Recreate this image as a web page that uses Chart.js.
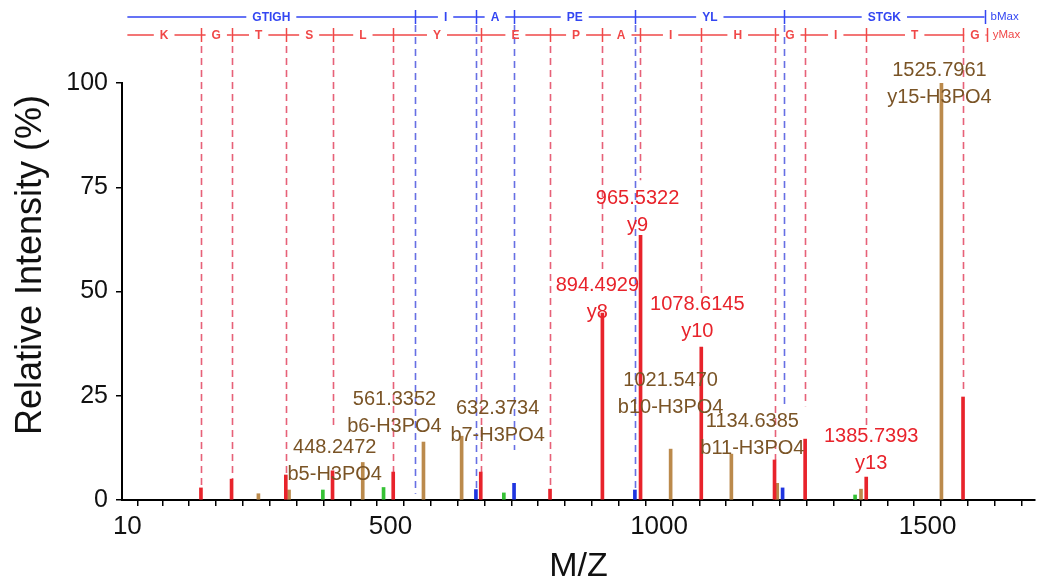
<!DOCTYPE html>
<html>
<head>
<meta charset="utf-8">
<script src="https://cdn.jsdelivr.net/npm/chart.js@4.4.1/dist/chart.umd.min.js"></script>
<style>
  html, body { margin: 0; padding: 0; background: #fff; }
  #grafico { display: block; }
</style>
</head>
<body>
<canvas id="grafico" width="1040" height="587"></canvas>
<script>
// picos por tipo de ion (m/z, intensidade relativa %)
const yIonMz = [147, 204, 305, 392, 505, 668, 797, 894.4929, 965.5322, 1078.6145, 1215, 1272, 1385.7393, 1566];
const yIonInt = [2.9, 5, 6, 7, 6.7, 6.7, 2.6, 44.8, 63.5, 36.7, 9.6, 14.6, 5.5, 24.7];
const perdaMz = [254, 311, 448.2472, 561.3352, 632.3734, 1021.5470, 1134.6385, 1220, 1376, 1525.7961];
const perdaInt = [1.5, 2.4, 9, 13.9, 15.3, 12.2, 11, 4, 2.6, 100];
const bIonMz = [659, 730, 955, 1230];
const bIonInt = [2.5, 4, 2.4, 2.9];
const outrosMz = [374, 487, 711, 1365];
const outrosInt = [2.4, 3, 1.7, 1.2];

// escada de fragmentos no topo
const escadaB = [546, 659, 730, 956, 1233, 1606];
const escadaBRes = ["GTIGH", "I", "A", "PE", "YL", "STGK"];
const escadaBTracejado = [1.5, 2.5, 12, 2.4, 22.3, null];
const escadaY = [147, 204, 305, 392, 505, 668, 797, 894, 965, 1078, 1215, 1272, 1386, 1566, 1610];
const escadaYRes = ["K", "G", "T", "S", "L", "Y", "E", "P", "A", "I", "H", "G", "I", "T", "G"];
const escadaYTracejado = [2.9, 5, 6, 17.5, 6.7, 6.7, 2.6, 54.4, 76.7, 49.6, 9.6, 22.5, 17.3, 25.7, null];

// picos anotados
const anotMz = [448.2472, 561.3352, 632.3734, 894.4929, 965.5322, 1078.6145, 1021.5470, 1134.6385, 1385.7393, 1525.7961];
const anotIon = ["b5-H3PO4", "b6-H3PO4", "b7-H3PO4", "y8", "y9", "y10", "b10-H3PO4", "b11-H3PO4", "y13", "y15-H3PO4"];

// eixos
const xMin = 0, xMax = 1700;
const xTicks = [10, 50, 100, 150, 200, 250, 300, 350, 400, 450, 500, 550, 600, 650, 700, 750, 800, 850, 900, 950,
  1000, 1050, 1100, 1150, 1200, 1250, 1300, 1350, 1400, 1450, 1500, 1550, 1600, 1650, 1700];
const xTickLabels = [10, 500, 1000, 1500];
const yTicks = [0, 25, 50, 75, 100];

const COR = {
  vermelho: "#e8232b",
  marrom: "#bb8a4c",
  marromTexto: "#7a5426",
  azul: "#1f35e0",
  verde: "#35c235",
  tracoVermelho: "rgba(228, 80, 105, 0.9)",
  tracoAzul: "rgba(85, 95, 225, 0.9)",
  escadaAzul: "#3346f2",
  escadaVermelha: "#f04848"
};
const FONTE = '"Liberation Sans", Arial, Helvetica, sans-serif';

// deslocamento (px) do rotulo em relacao ao topo do pico: [dx, dy da 2a linha]
const rotuloDesloc = [[-28, 12], [-29, -16], [36, -1], [-5, -1], [-3, -10], [-4, -15], [0, -42], [21, -6], [5, -14], [-2, 14]];

function pares(xs, ys) {
  return xs.map((x, i) => ({ x: x, y: ys[i] }));
}

function desenharEscada(ctx, xs, posicoes, residuos, y, cor, rotuloFim) {
  ctx.save();
  ctx.strokeStyle = cor;
  ctx.fillStyle = cor;
  ctx.lineWidth = 1.5;
  ctx.font = "bold 12px " + FONTE;
  ctx.textAlign = "center";
  ctx.textBaseline = "middle";
  const limites = [xTickLabels[0], ...posicoes];
  for (let i = 0; i < residuos.length; i++) {
    const a = xs.getPixelForValue(limites[i]);
    const b = xs.getPixelForValue(limites[i + 1]);
    const c = (a + b) / 2;
    const w = ctx.measureText(residuos[i]).width / 2 + 6;
    ctx.beginPath();
    if (c - w > a) { ctx.moveTo(a, y); ctx.lineTo(c - w, y); }
    if (c + w < b) { ctx.moveTo(c + w, y); ctx.lineTo(b, y); }
    ctx.stroke();
    ctx.fillText(residuos[i], c, y + 0.5);
  }
  ctx.beginPath();
  posicoes.forEach((p) => {
    const px = Math.round(xs.getPixelForValue(p)) + 0.5;
    ctx.moveTo(px, y - 7);
    ctx.lineTo(px, y + 7);
  });
  ctx.stroke();
  ctx.font = "11.5px " + FONTE;
  ctx.textAlign = "left";
  ctx.fillText(rotuloFim, xs.getPixelForValue(posicoes[posicoes.length - 1]) + 6, y);
  ctx.restore();
}

function desenharTracejados(ctx, xs, ys, posicoes, fins, yTopo, cor) {
  ctx.save();
  ctx.strokeStyle = cor;
  ctx.lineWidth = 1.6;
  ctx.setLineDash([7, 5]);
  posicoes.forEach((p, i) => {
    if (fins[i] === null) return;
    const px = Math.round(xs.getPixelForValue(p)) + 0.5;
    ctx.beginPath();
    ctx.moveTo(px, yTopo);
    ctx.lineTo(px, ys.getPixelForValue(fins[i]));
    ctx.stroke();
  });
  ctx.restore();
}

const espectroPlugin = {
  id: "espectro",
  beforeDatasetsDraw(chart) {
    const ctx = chart.ctx;
    const xs = chart.scales.x, ys = chart.scales.y;
    desenharTracejados(ctx, xs, ys, escadaY, escadaYTracejado, 46, COR.tracoVermelho);
    desenharTracejados(ctx, xs, ys, escadaB, escadaBTracejado, 25, COR.tracoAzul);
  },
  afterDatasetsDraw(chart) {
    const ctx = chart.ctx;
    const xs = chart.scales.x, ys = chart.scales.y;

    // rotulos dos picos
    ctx.save();
    ctx.font = "20px " + FONTE;
    ctx.textAlign = "center";
    ctx.textBaseline = "middle";
    anotMz.forEach((mz, i) => {
      let idx = yIonMz.indexOf(mz);
      let intens, cor;
      if (idx >= 0) { intens = yIonInt[idx]; cor = COR.vermelho; }
      else { idx = perdaMz.indexOf(mz); intens = perdaInt[idx]; cor = COR.marromTexto; }
      const px = xs.getPixelForValue(mz);
      const topo = ys.getPixelForValue(intens);
      const cx = px + rotuloDesloc[i][0];
      const y2 = topo + rotuloDesloc[i][1];
      ctx.fillStyle = cor;
      ctx.fillText(mz.toFixed(4), cx, y2 - 27);
      ctx.fillText(anotIon[i], cx, y2);
    });
    ctx.restore();

    desenharEscada(ctx, xs, escadaB, escadaBRes, 17, COR.escadaAzul, "bMax");
    desenharEscada(ctx, xs, escadaY, escadaYRes, 35, COR.escadaVermelha, "yMax");

    // titulo do eixo y
    ctx.save();
    ctx.translate(31, 265);
    ctx.rotate(-Math.PI / 2);
    ctx.font = "36px " + FONTE;
    ctx.fillStyle = "#111";
    ctx.textAlign = "center";
    ctx.textBaseline = "middle";
    ctx.fillText("Relative Intensity (%)", 0, 0);
    ctx.restore();
  }
};

Chart.defaults.font.family = FONTE;

const ctx = document.getElementById("grafico").getContext("2d");
new Chart(ctx, {
  type: "bar",
  data: {
    datasets: [
      { label: "y", data: pares(yIonMz, yIonInt), backgroundColor: COR.vermelho, barThickness: 3, grouped: false },
      { label: "perda H3PO4", data: pares(perdaMz, perdaInt), backgroundColor: COR.marrom, barThickness: 3, grouped: false },
      { label: "b", data: pares(bIonMz, bIonInt), backgroundColor: COR.azul, barThickness: 3, grouped: false },
      { label: "outros", data: pares(outrosMz, outrosInt), backgroundColor: COR.verde, barThickness: 3, grouped: false }
    ]
  },
  options: {
    responsive: false,
    animation: false,
    devicePixelRatio: 1,
    layout: { padding: { top: 83, right: 3, left: 0, bottom: 0 } },
    plugins: {
      legend: { display: false },
      tooltip: { enabled: false }
    },
    scales: {
      x: {
        type: "linear",
        min: xMin,
        max: xMax,
        offset: false,
        afterBuildTicks: (scale) => { scale.ticks = xTicks.map((v) => ({ value: v })); },
        afterFit: (scale) => { scale.height = 87; },
        ticks: {
          autoSkip: false,
          maxRotation: 0,
          padding: 5,
          color: "#111",
          font: { size: 26 },
          callback: (v) => (xTickLabels.includes(v) ? String(v) : "")
        },
        grid: { drawOnChartArea: false, tickLength: 6, color: "#000", lineWidth: 1.5 },
        border: { color: "#000", width: 2 },
        title: { display: true, text: "M/Z", color: "#111", font: { size: 34 }, padding: 0 }
      },
      y: {
        min: 0,
        max: 100,
        afterBuildTicks: (scale) => { scale.ticks = yTicks.map((v) => ({ value: v })); },
        afterFit: (scale) => { scale.width = 122; },
        ticks: { padding: 8, color: "#111", font: { size: 25 } },
        grid: { drawOnChartArea: false, tickLength: 6, color: "#000", lineWidth: 1.5 },
        border: { color: "#000", width: 2 }
      }
    }
  },
  plugins: [espectroPlugin]
});
</script>
</body>
</html>
